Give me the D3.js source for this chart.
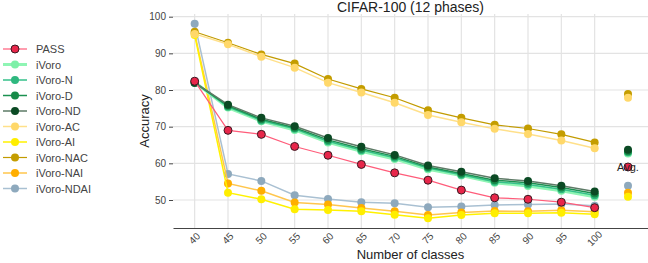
<!DOCTYPE html>
<html>
<head>
<meta charset="utf-8">
<script src="https://cdn.jsdelivr.net/npm/d3@7"></script>
<style>
  body { margin: 0; background: #fff; }
  svg { font-family: "Liberation Sans", Arial, sans-serif; }
</style>
</head>
<body>
<div id="chart"></div>
<script>
"use strict";
// x values of the phases, avg point sits at 105
var classes = [40, 45, 50, 55, 60, 65, 70, 75, 80, 85, 90, 95, 100];
var avgX = 105;

var seriesNames = ["PASS", "iVoro", "iVoro-N", "iVoro-D", "iVoro-ND", "iVoro-AC",
  "iVoro-AI", "iVoro-NAC", "iVoro-NAI", "iVoro-NDAI"];

var pass = [82.4, 69.0, 67.9, 64.6, 62.2, 59.7, 57.4, 55.4, 52.7, 50.6, 50.2, 49.4, 47.9];
var ivoro = [82.1, 75.2, 71.5, 69.1, 65.7, 63.3, 61.2, 58.4, 56.7, 54.7, 53.8, 52.5, 50.9];
var ivoroN = [82.0, 75.4, 71.7, 69.4, 66.0, 63.6, 61.5, 58.7, 56.9, 55.0, 54.2, 52.9, 51.3];
var ivoroD = [82.0, 75.7, 72.0, 69.7, 66.4, 64.0, 61.9, 59.0, 57.2, 55.4, 54.7, 53.4, 51.8];
var ivoroND = [82.0, 76.0, 72.4, 70.1, 66.9, 64.5, 62.3, 59.4, 57.7, 55.9, 55.2, 53.9, 52.3];
var ivoroAC = [95.3, 92.5, 89.1, 86.1, 82.0, 79.3, 76.5, 73.2, 71.2, 69.4, 68.0, 66.2, 64.1];
var ivoroAI = [95.0, 52.0, 50.2, 47.5, 47.3, 46.9, 46.0, 45.0, 45.9, 46.4, 46.4, 46.5, 46.1];
var ivoroNAC = [95.9, 92.9, 89.7, 87.2, 83.0, 80.3, 77.9, 74.5, 72.4, 70.5, 69.5, 67.9, 65.7];
var ivoroNAI = [95.5, 54.5, 52.5, 49.3, 48.8, 47.8, 46.9, 45.9, 46.6, 47.0, 46.9, 47.2, 46.8];
var ivoroNDAI = [98.1, 57.1, 55.2, 51.3, 50.3, 49.4, 49.1, 48.0, 48.2, 48.6, 48.8, 48.9, 48.4];

var averages = [59.0, 62.7, 63.0, 63.3, 63.7, 77.9, 50.9, 78.9, 52.0, 53.9];

var yTicks = [50, 60, 70, 80, 90, 100];

var allValues = [pass, ivoro, ivoroN, ivoroD, ivoroND, ivoroAC, ivoroAI, ivoroNAC, ivoroNAI, ivoroNDAI];

var styles = [
  { line: "#ff5c7a", dot: "#e8264a", outline: "#3a1a22", w: 1.2 },
  { line: "#8ff5b4", dot: "#7ef0a8", outline: null, w: 3 },
  { line: "#35c18a", dot: "#2fb87f", outline: null, w: 1.5 },
  { line: "#1b9150", dot: "#168a48", outline: null, w: 1.5 },
  { line: "#5d7a66", dot: "#0b4a24", outline: null, w: 1.5 },
  { line: "#ffe08a", dot: "#ffd86a", outline: null, w: 1.5 },
  { line: "#fff200", dot: "#ffee00", outline: null, w: 1.5 },
  { line: "#c29b00", dot: "#c49d00", outline: null, w: 1.2 },
  { line: "#ffc64d", dot: "#ffae00", outline: null, w: 1.5 },
  { line: "#a9c0d2", dot: "#8ea9bd", outline: null, w: 1.5 }
];

var w = 648, h = 263;
var pLeft = 173, pRight = 648, pTop = 14, pBottom = 228;

var svg = d3.select("#chart").append("svg")
  .attr("width", w)
  .attr("height", h);

var x = d3.scaleLinear().domain([36.75, 108]).range([pLeft, pRight]);
var y = d3.scaleLinear().domain([42.36, 100.73]).range([pBottom, pTop]);

//grid
svg.append("g").selectAll("line").data(yTicks).enter().append("line")
  .attr("x1", pLeft).attr("x2", pRight)
  .attr("y1", function(d) { return y(d); })
  .attr("y2", function(d) { return y(d); })
  .attr("stroke", "#e3e3e3").attr("stroke-width", 1.2);

svg.append("g").selectAll("line").data(classes).enter().append("line")
  .attr("x1", function(d) { return x(d); })
  .attr("x2", function(d) { return x(d); })
  .attr("y1", pTop).attr("y2", pBottom)
  .attr("stroke", "#e3e3e3").attr("stroke-width", 1.2);

//axes
var yAxis = svg.append("g")
  .attr("transform", "translate(" + pLeft + ",0)")
  .call(d3.axisLeft(y).tickValues(yTicks).tickSize(4).tickPadding(3));
yAxis.select(".domain").remove();
yAxis.selectAll("line").attr("stroke", "#444");
yAxis.selectAll("text").attr("fill", "#444").style("font-size", "10px");

var xAxis = svg.append("g")
  .attr("transform", "translate(0," + pBottom + ")")
  .call(d3.axisBottom(x).tickValues(classes).tickSize(0).tickPadding(0));
xAxis.select(".domain").attr("stroke", "#444").attr("stroke-width", 1.2);
xAxis.selectAll("text")
  .attr("fill", "#444")
  .style("font-size", "10px")
  .attr("text-anchor", "middle")
  .attr("dy", null)
  .attr("y", 0)
  .attr("transform", "translate(0,11) rotate(-45)")
  .attr("dominant-baseline", "middle");

//titles
svg.append("text")
  .attr("x", (pLeft + pRight) / 2).attr("y", 12)
  .attr("text-anchor", "middle")
  .attr("fill", "#222")
  .style("font-size", "14px")
  .text("CIFAR-100 (12 phases)");

svg.append("text")
  .attr("x", (pLeft + pRight) / 2).attr("y", 259)
  .attr("text-anchor", "middle")
  .attr("fill", "#222")
  .style("font-size", "13px")
  .text("Number of classes");

svg.append("text")
  .attr("transform", "translate(149," + (pTop + pBottom) / 2 + ") rotate(-90)")
  .attr("text-anchor", "middle")
  .attr("fill", "#222")
  .style("font-size", "13px")
  .text("Accuracy");

//series, drawn in reverse so PASS and darker greens sit on top
var line = d3.line()
  .x(function(d, i) { return x(classes[i]); })
  .y(function(d) { return y(d); });

var order = [9, 8, 6, 7, 5, 1, 2, 3, 4, 0];
var plot = svg.append("g");

order.forEach(function(k) {
  var st = styles[k];
  var g = plot.append("g");
  g.append("path")
    .datum(allValues[k])
    .attr("d", line)
    .attr("fill", "none")
    .attr("stroke", st.line)
    .attr("stroke-width", st.w);
  g.selectAll("circle").data(allValues[k]).enter().append("circle")
    .attr("cx", function(d, i) { return x(classes[i]); })
    .attr("cy", function(d) { return y(d); })
    .attr("r", 4)
    .attr("fill", st.dot)
    .attr("stroke", st.outline ? st.outline : "none")
    .attr("stroke-width", 1);
  g.append("circle")
    .attr("cx", x(avgX))
    .attr("cy", y(averages[k]))
    .attr("r", 4)
    .attr("fill", st.dot)
    .attr("stroke", st.outline ? st.outline : "none");
});

svg.append("text")
  .attr("x", x(avgX)).attr("y", y(averages[0]) + 4)
  .attr("text-anchor", "middle")
  .attr("fill", "#222")
  .style("font-size", "11px")
  .text("Avg.");

//legend
var legend = svg.append("g").selectAll("g").data(seriesNames).enter().append("g")
  .attr("transform", function(d, i) { return "translate(0," + (49 + i * 15.5) + ")"; });

legend.append("line")
  .attr("x1", 3).attr("x2", 27)
  .attr("stroke", function(d, i) { return styles[i].line; })
  .attr("stroke-width", function(d, i) { return styles[i].w; });
legend.append("circle")
  .attr("cx", 15).attr("r", 4)
  .attr("fill", function(d, i) { return styles[i].dot; })
  .attr("stroke", function(d, i) { return styles[i].outline ? styles[i].outline : "none"; });
legend.append("text")
  .attr("x", 36).attr("y", 4)
  .attr("fill", "#444")
  .style("font-size", "11px")
  .text(function(d) { return d; });
</script>
</body>
</html>
